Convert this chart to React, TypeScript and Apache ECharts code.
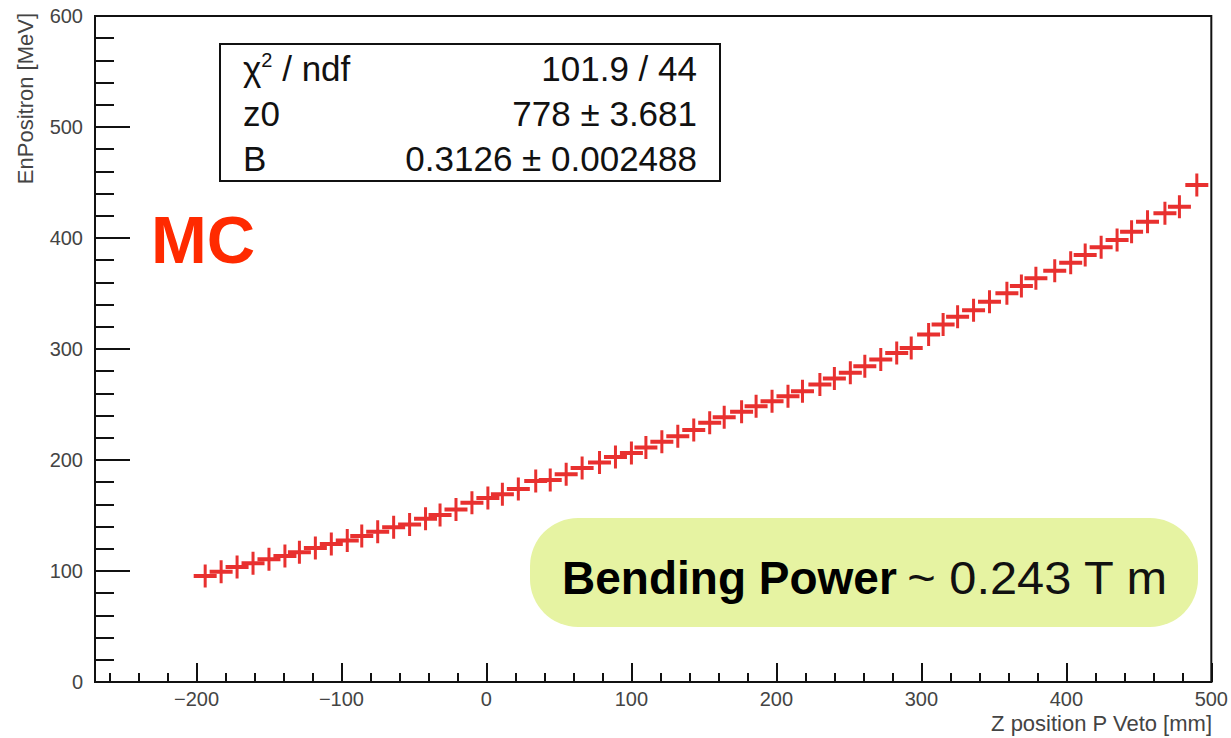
import React, { useEffect, useRef } from "react";
import * as echarts from "echarts";

// Data (Z position [mm] vs EnPositron [MeV])
const zPositions = [
  -194, -183, -172, -161, -150, -139, -129, -118, -107, -96, -86, -75, -64, -53, -42, -32,
  -21, -10, 1, 11, 22, 34, 44, 55, 66, 78, 89, 100, 110, 121, 132, 143,
  154, 164, 176, 186, 197, 208, 218, 230, 240, 251, 261, 272, 283, 293, 305, 315,
  325, 336, 347, 359, 369, 379, 392, 403, 413, 424, 435, 445, 456, 468, 478, 490,
];
const enPositron = [
  95.5, 99.4, 103.5, 106.9, 110.5, 113.5, 116.8, 120.7, 124.3, 127.5, 131.5, 135.4, 139.5, 142.0, 147.0, 150.5,
  155.5, 161.5, 165.8, 169.2, 173.8, 181.0, 182.0, 187.2, 192.8, 197.8, 202.7, 206.4, 211.2, 216.5, 221.5, 227.0,
  233.5, 238.5, 243.5, 248.5, 253.0, 257.5, 262.0, 268.0, 273.5, 278.5, 284.5, 290.5, 296.5, 301.0, 313.0, 322.0,
  329.0, 335.0, 342.6, 350.2, 356.8, 363.7, 370.5, 377.7, 384.7, 391.6, 398.2, 405.7, 414.7, 422.2, 428.2, 447.7,
];

const xMajorTicks = [-200, -100, 0, 100, 200, 300, 400, 500];
const xMinorTicks: number[] = [];
for (let v = -260; v < 500; v += 20) {
  if (v % 100 !== 0) xMinorTicks.push(v);
}

const statsLabels = ["{a|χ}{s|2}{a| / ndf}", "z0", "B"];
const statsValues = ["101.9 / 44", "778 ± 3.681", "0.3126 ± 0.002488"];

const FONT = "'Liberation Sans', Arial, Helvetica, sans-serif";
const RED = "#e8302f";

export default function App() {
  const ref = useRef<HTMLDivElement>(null);

  useEffect(() => {
    if (!ref.current) return;
    const chart = echarts.init(ref.current, undefined, { renderer: "svg" });

    const points = zPositions.map((z, i) => [z, enPositron[i]]);

    const statsTop = 44;
    const rowY = [68, 113, 158];

    const option: any = {
      animation: false,
      backgroundColor: "#ffffff",
      grid: {
        left: 95,
        right: 18,
        top: 16,
        bottom: 56,
        show: true,
        borderColor: "#111",
        borderWidth: 2,
        backgroundColor: "transparent",
      },
      xAxis: [
        {
          type: "value",
          min: -270,
          max: 500,
          position: "bottom",
          axisLine: { show: true, onZero: false, lineStyle: { color: "#111", width: 2 } },
          axisTick: {
            show: true,
            inside: true,
            length: 19,
            customValues: xMajorTicks,
            lineStyle: { color: "#111", width: 2 },
          },
          axisLabel: {
            show: true,
            customValues: xMajorTicks,
            margin: 7,
            fontSize: 20,
            fontFamily: FONT,
            color: "#444",
            formatter: (v: number) => (v < 0 ? "\u2212" + Math.abs(v) : String(v)),
          },
          splitLine: { show: false },
        },
        {
          type: "value",
          min: -270,
          max: 500,
          position: "bottom",
          axisLine: { show: false, onZero: false },
          axisTick: {
            show: true,
            inside: true,
            length: 9,
            customValues: xMinorTicks,
            lineStyle: { color: "#111", width: 2 },
          },
          axisLabel: { show: false },
          splitLine: { show: false },
        },
      ],
      yAxis: {
        type: "value",
        min: 0,
        max: 600,
        interval: 100,
        position: "left",
        axisLine: { show: true, onZero: false, lineStyle: { color: "#111", width: 2 } },
        axisTick: { show: true, inside: true, length: 35, lineStyle: { color: "#111", width: 2 } },
        minorTick: { show: true, splitNumber: 5, length: 19, lineStyle: { color: "#111", width: 2 } },
        axisLabel: { margin: 12, fontSize: 20, fontFamily: FONT, color: "#444" },
        splitLine: { show: false },
        minorSplitLine: { show: false },
      },
      series: [
        {
          type: "scatter",
          xAxisIndex: 0,
          data: points,
          symbol: "path://M0,9.5 H23 V13.5 H0 Z M10,0 H13 V23 H10 Z",
          symbolSize: 23,
          symbolKeepAspect: true,
          itemStyle: { color: RED, borderWidth: 0, opacity: 1 },
          silent: true,
        },
      ],
      graphic: [
        {
          type: "text",
          x: 25,
          y: 13,
          rotation: Math.PI / 2,
          style: {
            text: "EnPositron [MeV]",
            fontSize: 22,
            fontFamily: FONT,
            fill: "#444",
            align: "right",
            verticalAlign: "middle",
          },
        },
        {
          type: "text",
          x: 1212,
          y: 723,
          style: {
            text: "Z position P Veto [mm]",
            fontSize: 22,
            fontFamily: FONT,
            fill: "#444",
            align: "right",
            verticalAlign: "middle",
          },
        },
        {
          type: "rect",
          shape: { x: 220, y: statsTop, width: 500, height: 137 },
          style: { fill: "#fff", stroke: "#111", lineWidth: 2 },
        },
        ...statsLabels.map((t, i) => ({
          type: "text",
          x: 243,
          y: rowY[i],
          style: {
            text: t,
            fontSize: 35,
            fontFamily: FONT,
            fill: "#111",
            align: "left",
            verticalAlign: "middle",
            rich: {
              a: { fontSize: 35, fontFamily: FONT, fill: "#111" },
              s: { fontSize: 20, fontFamily: FONT, fill: "#111", padding: [0, 0, 16, 0] },
            },
          },
        })),
        ...statsValues.map((t, i) => ({
          type: "text",
          x: 697,
          y: rowY[i],
          style: {
            text: t,
            fontSize: 35,
            fontFamily: FONT,
            fill: "#111",
            align: "right",
            verticalAlign: "middle",
          },
        })),
        {
          type: "text",
          x: 151,
          y: 239,
          style: {
            text: "MC",
            fontSize: 67,
            fontWeight: "bold",
            fontFamily: FONT,
            fill: "#ff2a00",
            align: "left",
            verticalAlign: "middle",
          },
        },
        {
          type: "rect",
          shape: { x: 530, y: 518, width: 668, height: 109, r: 48 },
          style: { fill: "#e6f3a2" },
        },
        {
          type: "text",
          x: 562,
          y: 578,
          style: {
            text: "Bending Power",
            fontSize: 46,
            fontWeight: "bold",
            fontFamily: FONT,
            fill: "#000",
            align: "left",
            verticalAlign: "middle",
          },
        },
        {
          type: "text",
          x: 1167,
          y: 578,
          scaleX: 1.06,
          style: {
            text: "~ 0.243 T m",
            fontSize: 46,
            fontFamily: FONT,
            fill: "#111",
            align: "right",
            verticalAlign: "middle",
          },
        },
      ],
    };

    chart.setOption(option);
    return () => chart.dispose();
  }, []);

  return (
    <div
      ref={ref}
      style={{ position: "absolute", left: 0, top: 0, width: 1231, height: 738, background: "#fff" }}
    />
  );
}
